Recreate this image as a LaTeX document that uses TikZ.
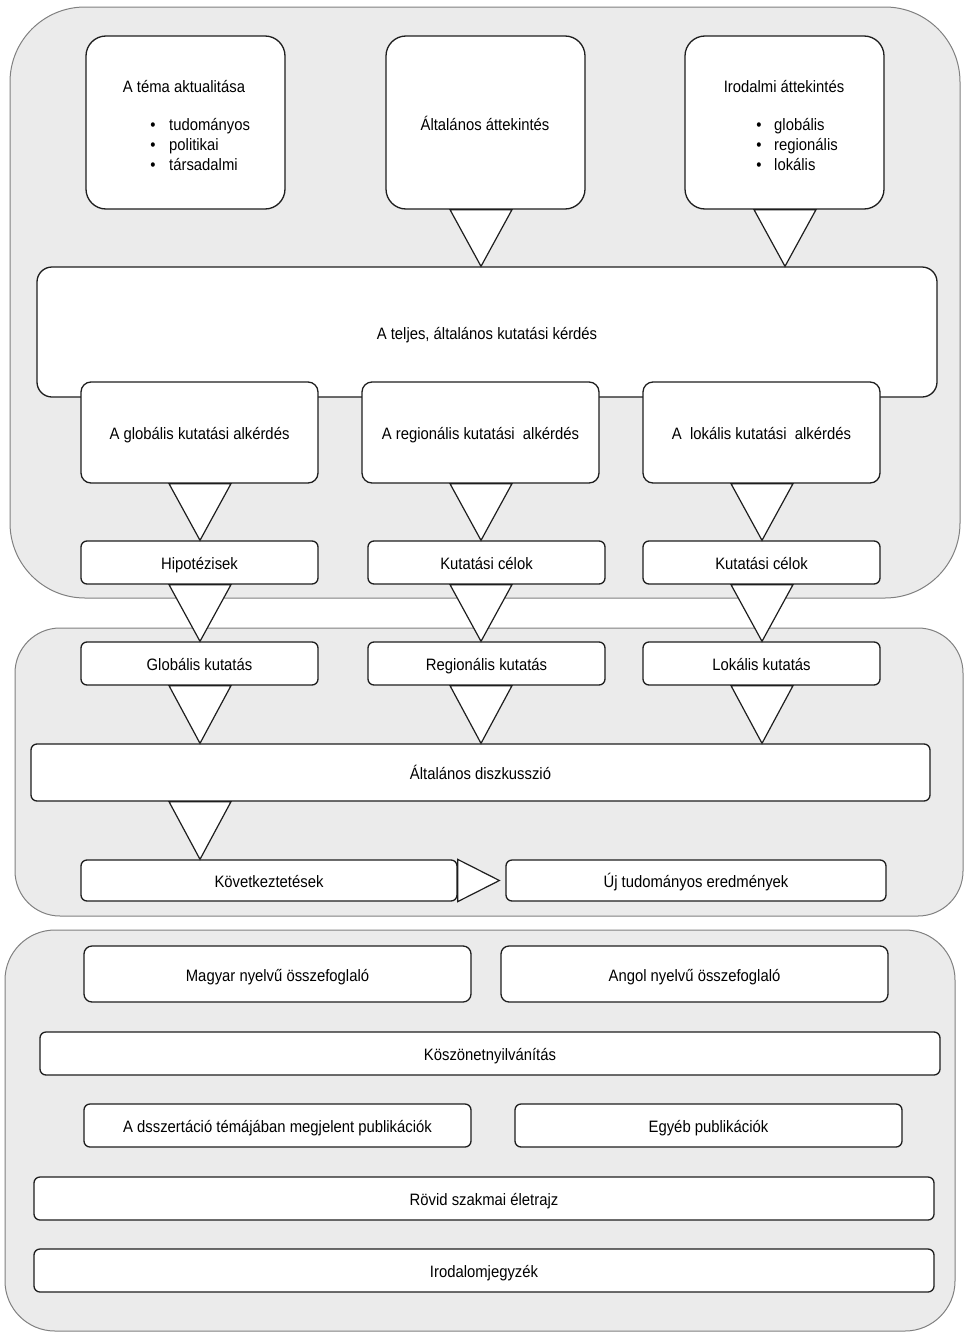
\documentclass[tikz,border=0pt]{standalone}
\usepackage{fontspec}
\setmainfont{Liberation Sans}[FakeStretch=0.9]
\usetikzlibrary{calc}
\definecolor{bgfill}{HTML}{EBEBEB}
\definecolor{bgline}{HTML}{808080}
\definecolor{boxline}{HTML}{1E1E1E}
\newcommand\mybox[7]{%
  \node[box, rounded corners=#6, minimum width={#4-#2}, minimum height={#5-#3}] (#1) at ({(#2+#4)/2},{(#3+#5)/2}) {#7};}
\newcommand\mytri[3]{%
  \pgfmathsetmacro\triL{#1-31}\pgfmathsetmacro\triR{#1+31}%
  \draw[tri] (\triL,0 |- #2.south) -- (\triR,0 |- #2.south) -- (#1,0 |- #3.north) -- cycle;}
\begin{document}
\begin{tikzpicture}[x=1pt,y=-1pt,
  font=\fontsize{16.5}{19}\selectfont,
  bg/.style={draw=bgline, fill=bgfill, line width=1pt, inner sep=0pt},
  box/.style={draw=boxline, fill=white, line width=1.3pt, inner sep=0pt, align=center, text height=14.5pt, text depth=0.5pt},
  tri/.style={draw=boxline, fill=white, line width=1.2pt, line join=miter},
  txt/.style={inner sep=0pt, anchor=base west},
  bul/.style={inner sep=0pt, anchor=base}]
\useasboundingbox (0,0) rectangle (965,1333);
% sections
\node[bg, rounded corners=75, minimum width=950, minimum height=591] (sec1) at (485,302.5) {};
\node[bg, rounded corners=45, minimum width=948, minimum height=288] (sec2) at (489,772) {};
\node[bg, rounded corners=50, minimum width=950, minimum height=401] (sec3) at (480,1130.5) {};
% top boxes
\mybox{t1}{86}{36}{285}{209}{20}{}
\mybox{t2}{386}{36}{585}{209}{20}{}
\mybox{t3}{685}{36}{884}{209}{20}{}
\node[inner sep=0pt, anchor=base] (t1h) at (184,92) {A téma aktualitása};
\node[inner sep=0pt, anchor=base] (t2h) at (485,130) {Általános áttekintés};
\node[bul] (t1b1) at (153,130) {•};
\node[bul] (t1b2) at (153,150) {•};
\node[bul] (t1b3) at (153,170) {•};
\node[txt] (t1l1) at (169,130) {tudományos};
\node[txt] (t1l2) at (169,150) {politikai};
\node[txt] (t1l3) at (169,170) {társadalmi};
\node[inner sep=0pt, anchor=base] (t3h) at (784,92) {Irodalmi áttekintés};
\node[bul] (t3b1) at (759,130) {•};
\node[bul] (t3b2) at (759,150) {•};
\node[bul] (t3b3) at (759,170) {•};
\node[txt] (t3l1) at (774,130) {globális};
\node[txt] (t3l2) at (774,150) {regionális};
\node[txt] (t3l3) at (774,170) {lokális};
% main question
\mybox{big}{37}{267}{937}{397}{15}{A teljes, általános kutatási kérdés}
\mybox{s1}{81}{382}{318}{483}{10}{A globális kutatási alkérdés}
\mybox{s2}{362}{382}{599}{483}{10}{A regionális kutatási\ \ alkérdés}
\mybox{s3}{643}{382}{880}{483}{10}{A\ \ lokális kutatási\ \ alkérdés}
\mybox{h1}{81}{541}{318}{584}{6}{Hipotézisek}
\mybox{h2}{368}{541}{605}{584}{6}{Kutatási célok}
\mybox{h3}{643}{541}{880}{584}{6}{Kutatási célok}
\mybox{g1}{81}{642}{318}{685}{6}{Globális kutatás}
\mybox{g2}{368}{642}{605}{685}{6}{Regionális kutatás}
\mybox{g3}{643}{642}{880}{685}{6}{Lokális kutatás}
\mybox{disc}{31}{744}{930}{801}{6}{Általános diszkusszió}
\mybox{kov}{81}{860}{457}{901}{6}{Következtetések}
\mybox{ujt}{506}{860}{886}{901}{6}{Új tudományos eredmények}
% bottom section
\mybox{mag}{84}{946}{471}{1002}{8}{Magyar nyelvű összefoglaló}
\mybox{ang}{501}{946}{888}{1002}{8}{Angol nyelvű összefoglaló}
\mybox{kosz}{40}{1032}{940}{1075}{6}{Köszönetnyilvánítás}
\mybox{dssz}{84}{1104}{471}{1147}{6}{A dsszertáció témájában megjelent publikációk}
\mybox{egy}{515}{1104}{902}{1147}{6}{Egyéb publikációk}
\mybox{rov}{34}{1177}{934}{1220}{6}{Rövid szakmai életrajz}
\mybox{iro}{34}{1249}{934}{1292}{6}{Irodalomjegyzék}
% connectors (triangles)
\mytri{481}{t2}{big}
\mytri{785}{t3}{big}
\mytri{200}{s1}{h1}
\mytri{481}{s2}{h2}
\mytri{762}{s3}{h3}
\mytri{200}{h1}{g1}
\mytri{481}{h2}{g2}
\mytri{762}{h3}{g3}
\mytri{200}{g1}{disc}
\mytri{481}{g2}{disc}
\mytri{762}{g3}{disc}
\mytri{200}{disc}{kov}
\draw[tri] (kov.north east) -- ($(ujt.west)+(-6,0)$) -- (kov.south east) -- cycle;
\end{tikzpicture}
\end{document}
